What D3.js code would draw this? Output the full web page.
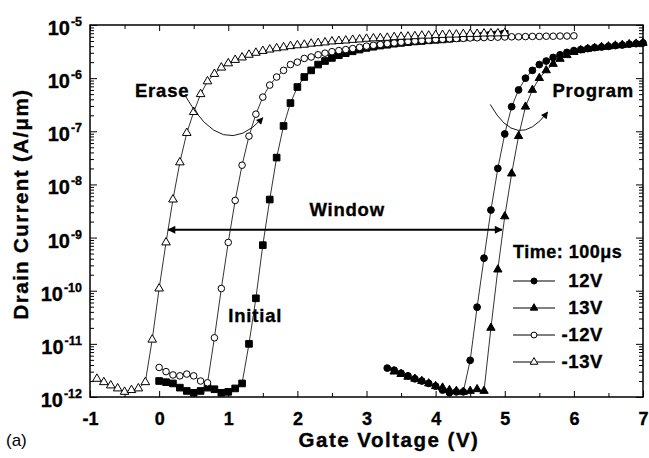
<!DOCTYPE html>
<html>
<head>
<meta charset="utf-8">
<script src="https://cdn.jsdelivr.net/npm/d3@7"></script>
<style>
    body { margin: 0; background: #fff; }
    text { font-family: "Liberation Sans", Arial, sans-serif; font-weight: bold; fill: #000; stroke: #000; stroke-width: 0.35px; }
    text.plain { font-weight: normal; stroke: none; }
</style>
</head>
<body>
<div id="chart"></div>
<script>
// ---- data (gate voltage in V, drain current in A/um) ----
const xTicks = [-1, 0, 1, 2, 3, 4, 5, 6, 7];
const xMinorTicks = [-0.5, 0.5, 1.5, 2.5, 3.5, 4.5, 5.5, 6.5];
const yExponents = [-12, -11, -10, -9, -8, -7, -6, -5];

// -13V erase (open triangles)
const erase13 = [[-0.9,2.2e-12],[-0.8,1.9e-12],[-0.7,1.65e-12],[-0.6,1.45e-12],[-0.5,1.25e-12],[-0.4,1.35e-12],
    [-0.3,1.45e-12],[-0.2,1.9e-12],[-0.1,1.2e-11],[0.0,1.1e-10],[0.1,8.1e-10],[0.2,5.2e-9],[0.3,2.6e-8],[0.4,9.3e-8],
    [0.5,2.3e-7],[0.6,5.0e-7],[0.7,8.7e-7],[0.8,1.2e-6],[0.9,1.58e-6],[1.0,1.9e-6],[1.1,2.2e-6],[1.2,2.45e-6],
    [1.3,2.75e-6],[1.4,3.0e-6],[1.5,3.25e-6],[1.6,3.45e-6],[1.7,3.65e-6],[1.8,3.8e-6],[1.9,4.0e-6],[2.0,4.15e-6],
    [2.1,4.25e-6],[2.2,4.45e-6],[2.3,4.55e-6],[2.4,4.7e-6],[2.5,4.9e-6],[2.6,5.0e-6],[2.7,5.1e-6],[2.8,5.25e-6],
    [2.9,5.35e-6],[3.0,5.5e-6],[3.1,5.6e-6],[3.2,5.65e-6],[3.3,5.75e-6],[3.4,5.9e-6],[3.5,6.0e-6],[3.6,6.05e-6],
    [3.7,6.15e-6],[3.8,6.3e-6],[3.9,6.3e-6],[4.0,6.45e-6],[4.1,6.5e-6],[4.2,6.6e-6],[4.3,6.6e-6],[4.4,6.75e-6],
    [4.5,6.8e-6],[4.6,6.8e-6],[4.7,6.9e-6],[4.8,6.95e-6],[4.9,6.95e-6],[5.0,7.0e-6]];

// -12V erase (open circles)
const erase12 = [[0.0,3.6e-12],[0.1,3.0e-12],[0.2,2.6e-12],[0.3,2.5e-12],[0.4,2.7e-12],[0.5,2.5e-12],[0.6,2.0e-12],
    [0.7,1.85e-12],[0.8,1.3e-11],[0.9,1.1e-10],[1.0,8.1e-10],[1.1,5.0e-9],[1.2,2.3e-8],[1.3,8.1e-8],[1.4,2.1e-7],
    [1.5,4.4e-7],[1.6,7.4e-7],[1.7,1.05e-6],[1.8,1.4e-6],[1.9,1.8e-6],[2.0,2.0e-6],[2.1,2.35e-6],[2.2,2.5e-6],
    [2.3,2.75e-6],[2.4,2.95e-6],[2.5,3.15e-6],[2.6,3.3e-6],[2.7,3.45e-6],[2.8,3.6e-6],[2.9,3.8e-6],[3.0,4.0e-6],
    [3.1,4.15e-6],[3.2,4.3e-6],[3.3,4.45e-6],[3.4,4.6e-6],[3.5,4.75e-6],[3.6,4.9e-6],[3.7,5.0e-6],[3.8,5.1e-6],
    [3.9,5.2e-6],[4.0,5.35e-6],[4.1,5.4e-6],[4.2,5.5e-6],[4.3,5.55e-6],[4.4,5.6e-6],[4.5,5.7e-6],[4.6,5.75e-6],
    [4.7,5.8e-6],[4.8,5.85e-6],[4.9,5.9e-6],[5.0,5.95e-6],[5.1,6.0e-6],[5.2,6.0e-6],[5.3,6.05e-6],[5.4,6.1e-6],
    [5.5,6.1e-6],[5.6,6.15e-6],[5.7,6.15e-6],[5.8,6.2e-6],[5.9,6.2e-6],[6.0,6.25e-6]];

// initial (filled squares)
const initial = [[0.0,2.0e-12],[0.1,1.9e-12],[0.2,1.8e-12],[0.3,1.5e-12],[0.4,1.3e-12],[0.5,1.2e-12],[0.6,1.3e-12],
    [0.7,1.5e-12],[0.8,1.4e-12],[0.9,1.2e-12],[1.0,1.25e-12],[1.1,1.45e-12],[1.2,1.8e-12],[1.3,1.0e-11],[1.4,7.2e-11],
    [1.5,7.2e-10],[1.6,5.2e-9],[1.7,3.2e-8],[1.8,1.26e-7],[1.9,3.4e-7],[2.0,6.8e-7],[2.1,1.05e-6],[2.2,1.4e-6],
    [2.3,1.8e-6],[2.4,2.1e-6],[2.5,2.4e-6],[2.6,2.7e-6],[2.7,2.95e-6],[2.8,3.2e-6],[2.9,3.45e-6],[3.0,3.7e-6],
    [3.1,3.9e-6],[3.2,4.1e-6],[3.3,4.25e-6],[3.4,4.45e-6],[3.5,4.6e-6],[3.6,4.75e-6],[3.7,4.9e-6],[3.8,5.0e-6],
    [3.9,5.15e-6],[4.0,5.25e-6],[4.1,5.35e-6],[4.2,5.5e-6],[4.3,5.65e-6],[4.4,5.8e-6],[4.5,5.95e-6],[4.6,6.1e-6],
    [4.7,6.3e-6],[4.8,6.45e-6],[4.9,6.6e-6],[5.0,6.8e-6]];

// 12V program (filled circles)
const prog12 = [[3.3,3.5e-12],[3.4,3.2e-12],[3.5,2.8e-12],[3.6,2.5e-12],[3.7,2.2e-12],[3.8,2.0e-12],[3.9,1.8e-12],
    [4.0,1.6e-12],[4.1,1.35e-12],[4.2,1.2e-12],[4.3,1.25e-12],[4.4,1.25e-12],[4.5,4.9e-12],[4.6,4.9e-11],[4.7,4.1e-10],
    [4.8,3.3e-9],[4.9,2.0e-8],[5.0,8.9e-8],[5.1,2.9e-7],[5.2,6.0e-7],[5.3,1.0e-6],[5.4,1.4e-6],[5.5,1.8e-6],
    [5.6,2.1e-6],[5.7,2.45e-6],[5.8,2.75e-6],[5.9,3.05e-6],[6.0,3.3e-6],[6.1,3.45e-6],[6.2,3.6e-6],[6.3,3.75e-6],
    [6.4,3.85e-6],[6.5,3.95e-6],[6.6,4.1e-6],[6.7,4.2e-6],[6.8,4.35e-6],[6.9,4.45e-6],[7.0,4.6e-6]];

// 13V program (filled triangles)
const prog13 = [[3.4,3.0e-12],[3.5,2.7e-12],[3.6,2.4e-12],[3.7,2.2e-12],[3.8,2.0e-12],[3.9,1.8e-12],[4.0,1.6e-12],
    [4.1,1.5e-12],[4.2,1.35e-12],[4.3,1.3e-12],[4.4,1.25e-12],[4.5,1.3e-12],[4.6,1.4e-12],[4.7,1.3e-12],[4.8,2.0e-11],
    [4.9,2.5e-10],[5.0,2.5e-9],[5.1,1.6e-8],[5.2,8.1e-8],[5.3,2.9e-7],[5.4,6.0e-7],[5.5,1.0e-6],[5.6,1.4e-6],
    [5.7,1.85e-6],[5.8,2.3e-6],[5.9,2.7e-6],[6.0,3.1e-6],[6.1,3.35e-6],[6.2,3.55e-6],[6.3,3.7e-6],[6.4,3.85e-6],
    [6.5,3.95e-6],[6.6,4.1e-6],[6.7,4.2e-6],[6.8,4.35e-6],[6.9,4.45e-6],[7.0,4.6e-6]];

const legendLabels = ["12V", "13V", "-12V", "-13V"];

// ---- layout ----
const W = 649, H = 458;
const margin = { top: 25, right: 6, bottom: 61, left: 90 };
const width = W - margin.left - margin.right;
const height = H - margin.top - margin.bottom;

const svg = d3.select("#chart").append("svg")
    .attr("width", W)
    .attr("height", H);

const g = svg.append("g")
    .attr("transform", `translate(${margin.left},${margin.top})`);

const x = d3.scaleLinear().domain([-1, 7]).range([0, width]);
const y = d3.scaleLog().domain([1e-12, 1e-5]).range([height, 0]);

// arrow heads
const defs = svg.append("defs");
defs.append("marker")
    .attr("id", "head")
    .attr("viewBox", "0 0 10 10")
    .attr("refX", 9).attr("refY", 5)
    .attr("markerUnits", "userSpaceOnUse")
    .attr("markerWidth", 10).attr("markerHeight", 8)
    .attr("orient", "auto-start-reverse")
    .append("path").attr("d", "M0,0L10,5L0,10z").attr("fill", "#000");
defs.append("marker")
    .attr("id", "smallHead")
    .attr("viewBox", "0 0 10 10")
    .attr("refX", 9).attr("refY", 5)
    .attr("markerUnits", "userSpaceOnUse")
    .attr("markerWidth", 9).attr("markerHeight", 7)
    .attr("orient", "auto")
    .append("path").attr("d", "M0,0L10,5L0,10z").attr("fill", "#000");

// ---- axes ----
const minorY = [];
yExponents.slice(0, -1).forEach(e => {
    for (let k = 2; k <= 9; k++) minorY.push(k * Math.pow(10, e));
});
const majorY = yExponents.map(e => Math.pow(10, e));

g.append("g").call(d3.axisLeft(y).tickValues(majorY).tickSize(-7).tickFormat(""));
g.append("g").call(d3.axisLeft(y).tickValues(minorY).tickSize(-4).tickFormat(""));
g.append("g").attr("transform", `translate(${width},0)`)
    .call(d3.axisRight(y).tickValues(majorY).tickSize(-7).tickFormat(""));
g.append("g").attr("transform", `translate(${width},0)`)
    .call(d3.axisRight(y).tickValues(minorY).tickSize(-4).tickFormat(""));

const xAxis = g.append("g").attr("transform", `translate(0,${height})`)
    .call(d3.axisBottom(x).tickValues(xTicks).tickSizeInner(-6).tickSizeOuter(0)
        .tickPadding(15).tickFormat(d => String(d)));
g.append("g").attr("transform", `translate(0,${height})`)
    .call(d3.axisBottom(x).tickValues(xMinorTicks).tickSize(-4).tickFormat(""));
g.append("g").call(d3.axisTop(x).tickValues(xTicks).tickSize(-6).tickFormat(""));
g.append("g").call(d3.axisTop(x).tickValues(xMinorTicks).tickSize(-4).tickFormat(""));

g.selectAll(".domain").remove();
g.selectAll(".tick line").attr("stroke", "#000").attr("stroke-width", 1);

xAxis.selectAll("text")
    .style("font-family", '"Liberation Sans", Arial, sans-serif')
    .style("font-weight", "bold")
    .style("font-size", "18px")
    .attr("fill", "#000");

// y tick labels 10^n
const yLab = g.append("g").selectAll("text")
    .data(yExponents)
    .enter().append("text")
    .attr("x", -8)
    .attr("y", d => y(Math.pow(10, d)) + 10)
    .attr("text-anchor", "end");
yLab.append("tspan").style("font-size", "20px").text("10");
yLab.append("tspan").style("font-size", "12.5px").attr("dy", -9).attr("dx", 1).text(d => String(d));

// frame
g.append("rect")
    .attr("width", width).attr("height", height)
    .attr("fill", "none").attr("stroke", "#000").attr("stroke-width", 1.5);

// axis titles
svg.append("text")
    .attr("x", 389).attr("y", 447)
    .attr("text-anchor", "middle")
    .style("font-size", "20.5px").style("letter-spacing", "1.5px")
    .text("Gate Voltage (V)");

svg.append("text")
    .attr("transform", "translate(28,204) rotate(-90)")
    .attr("text-anchor", "middle")
    .style("font-size", "20.5px").style("letter-spacing", "1.4px")
    .text("Drain Current (A/\u03bcm)");

svg.append("text")
    .attr("class", "plain")
    .attr("x", 6).attr("y", 446)
    .style("font-size", "17px")
    .text("(a)");

// ---- series ----
const line = d3.line().x(d => x(d[0])).y(d => y(d[1]));

const series = [
    { data: initial, shape: d3.symbolSquare, size: 44, fill: "#000" },
    { data: erase12, shape: d3.symbolCircle, size: 34, fill: "#fff" },
    { data: erase13, shape: d3.symbolTriangle, size: 32, fill: "#fff" },
    { data: prog12, shape: d3.symbolCircle, size: 36, fill: "#000" },
    { data: prog13, shape: d3.symbolTriangle, size: 30, fill: "#000" }
];

series.forEach(s => {
    g.append("path")
        .datum(s.data)
        .attr("d", line)
        .attr("fill", "none")
        .attr("stroke", "#000")
        .attr("stroke-width", 0.8);
    g.append("g").selectAll("path")
        .data(s.data)
        .enter().append("path")
        .attr("transform", d => `translate(${x(d[0])},${y(d[1])})`)
        .attr("d", d3.symbol().type(s.shape).size(s.size))
        .attr("fill", s.fill)
        .attr("stroke", "#000")
        .attr("stroke-width", 1);
});

// ---- annotations ----
// window arrow
g.append("line")
    .attr("x1", x(0.13)).attr("x2", x(4.96))
    .attr("y1", y(1.4e-9)).attr("y2", y(1.4e-9))
    .attr("stroke", "#000").attr("stroke-width", 2)
    .attr("marker-start", "url(#head)")
    .attr("marker-end", "url(#head)");

// erase / program arcs
const arc = (p0, c, p1) => `M${x(p0[0])},${y(p0[1])}Q${x(c[0])},${y(c[1])} ${x(p1[0])},${y(p1[1])}`;
g.append("path")
    .attr("d", arc([0.38, 4.6e-7], [0.92, 2.6e-8], [1.5, 1.8e-7]))
    .attr("fill", "none").attr("stroke", "#000").attr("stroke-width", 0.9)
    .attr("marker-end", "url(#smallHead)");
g.append("path")
    .attr("d", arc([4.79, 3.2e-7], [5.18, 4.0e-8], [5.62, 2.3e-7]))
    .attr("fill", "none").attr("stroke", "#000").attr("stroke-width", 0.9)
    .attr("marker-end", "url(#smallHead)");

const labels = [
    { text: "Erase", v: -0.35, i: 4.4e-7, anchor: "start" },
    { text: "Program", v: 5.69, i: 4.4e-7, anchor: "start" },
    { text: "Window", v: 2.72, i: 2.5e-9, anchor: "middle" },
    { text: "Initial", v: 1.0, i: 2.6e-11, anchor: "start" }
];
g.append("g").selectAll("text")
    .data(labels)
    .enter().append("text")
    .attr("x", d => x(d.v))
    .attr("y", d => y(d.i))
    .attr("text-anchor", d => d.anchor)
    .style("font-size", "18.5px").style("letter-spacing", "0.8px")
    .text(d => d.text);

// ---- legend ----
const legend = svg.append("g").attr("transform", "translate(513,258)");
legend.append("text")
    .attr("x", 0).attr("y", 0)
    .style("font-size", "18px").style("letter-spacing", "0.5px")
    .text("Time: 100\u03bcs");

const legendOrder = [series[3], series[4], series[1], series[2]];
const row = legend.selectAll(".row")
    .data(legendOrder)
    .enter().append("g")
    .attr("class", "row")
    .attr("transform", (d, i) => `translate(0,${23 + i * 27})`);
row.append("line")
    .attr("x1", 0).attr("x2", 42)
    .attr("stroke", "#000").attr("stroke-width", 1);
row.append("path")
    .attr("transform", "translate(21,0)")
    .attr("d", d => d3.symbol().type(d.shape).size(d.size * 0.8)())
    .attr("fill", d => d.fill)
    .attr("stroke", "#000");
row.append("text")
    .attr("x", 90).attr("y", 6)
    .attr("text-anchor", "end")
    .style("font-size", "18.5px").style("letter-spacing", "0.6px")
    .text((d, i) => legendLabels[i]);
</script>
</body>
</html>
